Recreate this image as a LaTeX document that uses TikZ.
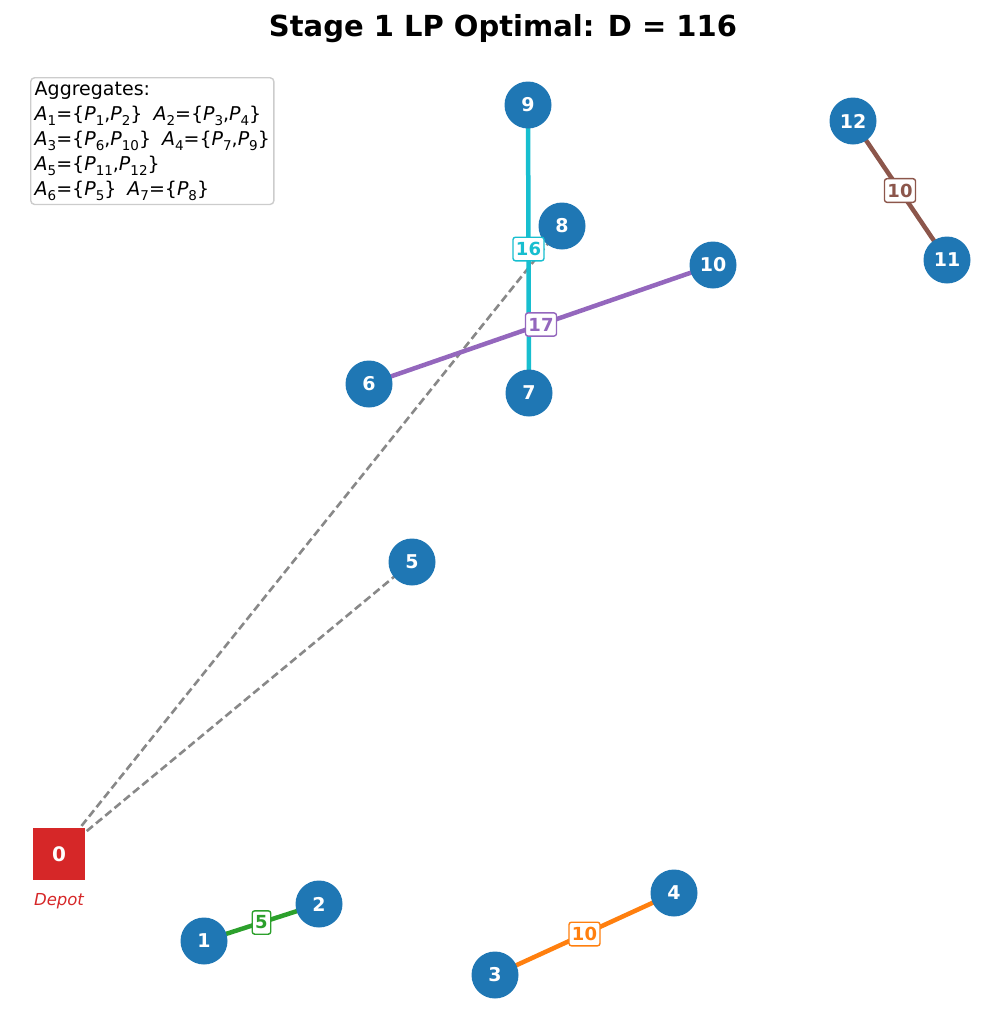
\documentclass[tikz,border=0pt]{standalone}
\usepackage{fontspec}
\setmainfont{DejaVu Sans}
\definecolor{tabblue}{HTML}{1F77B4}
\definecolor{tabred}{HTML}{D62728}
\definecolor{tabgreen}{HTML}{2CA02C}
\definecolor{taborange}{HTML}{FF7F0E}
\definecolor{tabpurple}{HTML}{9467BD}
\definecolor{tabcyan}{HTML}{17BECF}
\definecolor{tabbrown}{HTML}{8C564B}
\definecolor{routegray}{HTML}{888888}
\definecolor{legborder}{HTML}{CCCCCC}
\newcommand{\sbs}[1]{\raisebox{-0.25em}{\fontsize{13.5}{13.5}\selectfont #1}}
\newcommand{\Ag}[1]{\textit{A}\sbs{#1}}
\newcommand{\Pt}[1]{\textit{P}\sbs{#1}}
\pgfdeclarelayer{bg}
\pgfsetlayers{bg,main}
\begin{document}
\begin{tikzpicture}[x=1pt,y=-1pt,
  cust/.style={circle, fill=tabblue, minimum size=47pt, inner sep=0pt, text=white,
    font=\fontsize{19}{19}\selectfont\bfseries},
  depot/.style={rectangle, fill=tabred, minimum size=52pt, inner sep=0pt, text=white,
    font=\fontsize{20}{20}\selectfont\bfseries},
  edgeline/.style={line width=4.5pt},
  elab/.style={fill=white, draw, rounded corners=2.5pt, line width=1.4pt,
    inner xsep=3pt, inner ysep=5pt,
    font=\fontsize{18}{18}\selectfont\bfseries},
  route/.style={routegray, line width=2.6pt, dash pattern=on 8pt off 4pt},
]
\useasboundingbox (0,0) rectangle (1006,1034);

\node[font=\fontsize{29}{29}\selectfont\bfseries] (title) at (503,29) {Stage 1 LP Optimal: D = 116};

\node[anchor=north west, draw=legborder, line width=1.4pt, rounded corners=4pt, fill=white,
  align=left, inner sep=4pt, font=\fontsize{19}{25}\selectfont] (legend) at (30,77)
  {Aggregates:\\
   \Ag{1}=\{\Pt{1},\Pt{2}\}\hspace{11pt}\Ag{2}=\{\Pt{3},\Pt{4}\}\\
   \Ag{3}=\{\Pt{6},\Pt{10}\}\hspace{11pt}\Ag{4}=\{\Pt{7},\Pt{9}\}\\
   \Ag{5}=\{\Pt{11},\Pt{12}\}\\
   \Ag{6}=\{\Pt{5}\}\hspace{11pt}\Ag{7}=\{\Pt{8}\}};

\node[depot] (p0) at (59,854) {0};
\node[text=tabred, font=\fontsize{16.5}{16.5}\selectfont\itshape] (depotlab) at (59,901) {Depot};

\node[cust] (p1) at (204,941) {1};
\node[cust] (p2) at (319,904) {2};
\node[cust] (p3) at (495,975) {3};
\node[cust] (p4) at (674,893) {4};
\node[cust] (p5) at (412,562) {5};
\node[cust] (p6) at (369,384) {6};
\node[cust] (p7) at (529,393) {7};
\node[cust] (p8) at (562,226) {8};
\node[cust] (p9) at (528,105) {9};
\node[cust] (p10) at (713,265) {10};
\node[cust] (p11) at (947,260) {11};
\node[cust] (p12) at (853,121) {12};

\begin{pgfonlayer}{bg}
\draw[route] (p0.center) -- (p5.center);
\draw[route] (p0.center) -- (p8.center);
\draw[edgeline, tabcyan] (p7.center) -- (p9.center);
\draw[edgeline, tabpurple] (p6.center) -- (p10.center);
\draw[edgeline, tabgreen] (p1.center) -- (p2.center);
\draw[edgeline, taborange] (p3.center) -- (p4.center);
\draw[edgeline, tabbrown] (p12.center) -- (p11.center);
\end{pgfonlayer}

\path (p1) -- node[elab, draw=tabgreen, text=tabgreen] (l12) {5} (p2);
\path (p3) -- node[elab, draw=taborange, text=taborange] (l34) {10} (p4);
\path (p6) -- node[elab, draw=tabpurple, text=tabpurple] (l610) {17} (p10);
\path (p7) -- node[elab, draw=tabcyan, text=tabcyan] (l79) {16} (p9);
\path (p12) -- node[elab, draw=tabbrown, text=tabbrown] (l1112) {10} (p11);
\end{tikzpicture}
\end{document}
